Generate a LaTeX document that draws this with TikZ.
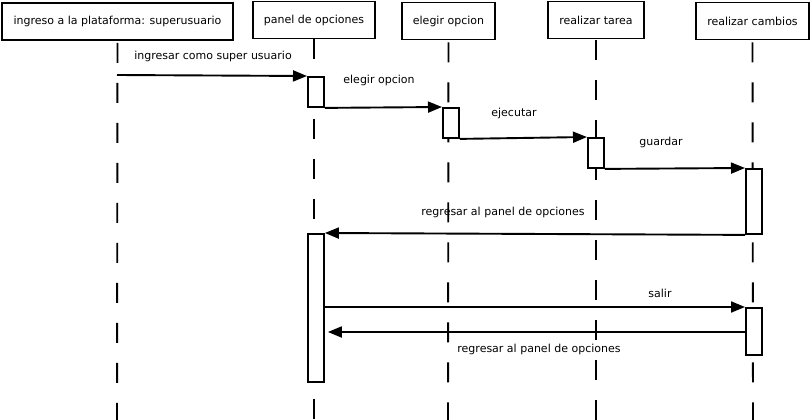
\documentclass[tikz,border=0pt]{standalone}
\usepackage{fontspec}
\setmainfont{DejaVu Sans}
\usetikzlibrary{arrows.meta,calc}
\begin{document}
\begin{tikzpicture}[x=1pt,y=-1pt,
  head/.style={draw,line width=1.9pt,minimum height=37pt,inner sep=0pt,font=\fontsize{11}{13}\selectfont},
  life/.style={line width=1.9pt,dash pattern=on 20pt off 20pt},
  actbar/.style={draw,fill=white,line width=1.9pt,minimum width=16pt,inner sep=0pt,anchor=north west},
  msg/.style={line width=1.9pt,-{Triangle[length=14pt,width=11pt]}},
  lbl/.style={font=\fontsize{11}{13}\selectfont}]
\useasboundingbox (0,0) rectangle (812,420);
% heads
\node[head,minimum width=231pt] (h1) at (117.5,21.5) {ingreso a la plataforma: superusuario};
\node[head,minimum width=122pt] (h2) at (314,20) {panel de opciones};
\node[head,minimum width=93pt] (h3) at (448.5,21) {elegir opcion};
\node[head,minimum width=96pt] (h4) at (596,20) {realizar tarea};
\node[head,minimum width=113pt] (h5) at (752.5,21) {realizar cambios};
% lifeline ends
\coordinate (e1) at (117,420);
\coordinate (e2) at (314,420);
\coordinate (e3) at (448,420);
\coordinate (e4) at (596,420);
\coordinate (e5) at (753,420);
\draw[life,dash phase=-2pt] (h1.south) -- (e1);
\draw[life,dash phase=0pt] (h2.south) -- (e2);
\draw[life,dash phase=-2pt] (h3.south) -- (e3);
\draw[life,dash phase=-1pt] (h4.south) -- (e4);
\draw[life,dash phase=-2pt] (h5.south) -- (e5);
% activation bars
\node[actbar,minimum height=30pt] (a1) at (307,76) {};
\node[actbar,minimum height=30pt] (a2) at (442,107) {};
\node[actbar,minimum height=30pt] (a3) at (587,137) {};
\node[actbar,minimum height=65pt] (a4) at (745,168) {};
\node[actbar,minimum height=148pt] (a5) at (307,233) {};
\node[actbar,minimum height=47pt] (a6) at (745,307) {};
% messages
\coordinate (s1) at (117,75);
\draw[msg] (s1) -- (a1.north west);
\draw[msg] (a1.south east) -- (a2.north west);
\draw[msg] (a2.south east) -- (a3.north west);
\draw[msg] (a3.south east) -- (a4.north west);
\draw[msg] (a4.south west) -- (a5.north east);
\draw[msg] (a5.east |- a6.north) -- (a6.north west);
\coordinate (s7) at (745,332);
\draw[msg,shorten >=3pt] (s7) -- (a5.east |- s7);
% labels
\node[lbl] at (213,56) {ingresar como super usuario};
\node[lbl] at (379,80) {elegir opcion};
\node[lbl] at (514,113) {ejecutar};
\node[lbl] at (661,142) {guardar};
\node[lbl] at (503,212) {regresar al panel de opciones};
\node[lbl] at (660,293) {salir};
\node[lbl] at (539,349) {regresar al panel de opciones};
\end{tikzpicture}
\end{document}
